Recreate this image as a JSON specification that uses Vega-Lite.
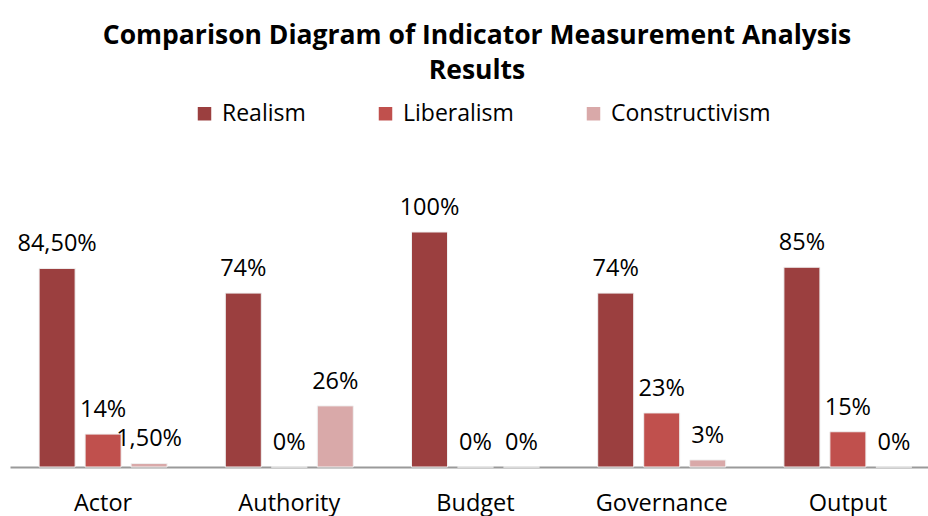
{
  "$schema": "https://vega.github.io/schema/vega-lite/v6.json",
  "autosize": {"type": "none"},
  "width": 918,
  "height": 282,
  "padding": {"left": 10, "right": 0, "top": 185, "bottom": 49},
  "background": "white",
  "config": {"view": {"stroke": null}, "font": "Open Sans"},
  "title": {
    "text": ["Comparison Diagram of Indicator Measurement Analysis", "Results"],
    "fontSize": 26.5,
    "fontWeight": "bold",
    "font": "Open Sans",
    "color": "black",
    "anchor": "middle",
    "dx": 8,
    "lineHeight": 35,
    "offset": 18
  },
  "data": {
    "values": [
      {"category": "Actor", "series": "Realism", "value": 0.845, "label": "84,50%"},
      {"category": "Actor", "series": "Liberalism", "value": 0.14, "label": "14%"},
      {"category": "Actor", "series": "Constructivism", "value": 0.015, "label": "1,50%"},
      {"category": "Authority", "series": "Realism", "value": 0.74, "label": "74%"},
      {"category": "Authority", "series": "Liberalism", "value": 0, "label": "0%"},
      {"category": "Authority", "series": "Constructivism", "value": 0.26, "label": "26%"},
      {"category": "Budget", "series": "Realism", "value": 1.0, "label": "100%"},
      {"category": "Budget", "series": "Liberalism", "value": 0, "label": "0%"},
      {"category": "Budget", "series": "Constructivism", "value": 0, "label": "0%"},
      {"category": "Governance", "series": "Realism", "value": 0.74, "label": "74%"},
      {"category": "Governance", "series": "Liberalism", "value": 0.23, "label": "23%"},
      {"category": "Governance", "series": "Constructivism", "value": 0.03, "label": "3%"},
      {"category": "Output", "series": "Realism", "value": 0.85, "label": "85%"},
      {"category": "Output", "series": "Liberalism", "value": 0.15, "label": "15%"},
      {"category": "Output", "series": "Constructivism", "value": 0, "label": "0%"}
    ]
  },
  "encoding": {
    "x": {
      "field": "category",
      "type": "nominal",
      "sort": ["Actor", "Authority", "Budget", "Governance", "Output"],
      "scale": {"range": [0, 931], "paddingInner": 0.3126, "paddingOuter": 0.1563},
      "axis": {
        "title": null,
        "labelAngle": 0,
        "labelFontSize": 23.5,
        "labelFont": "Open Sans",
        "labelColor": "black",
        "labelPadding": 24,
        "ticks": false,
        "domainColor": "#9a9a9a",
        "domainWidth": 2
      }
    },
    "xOffset": {
      "field": "series",
      "type": "nominal",
      "sort": ["Realism", "Liberalism", "Constructivism"],
      "scale": {"paddingInner": 0.217, "paddingOuter": 0}
    },
    "y": {
      "field": "value",
      "type": "quantitative",
      "scale": {"domain": [0, 1.2]},
      "axis": null
    }
  },
  "layer": [
    {
      "mark": {"type": "bar", "stroke": "#f0f0f0", "strokeWidth": 1},
      "encoding": {
        "color": {
          "field": "series",
          "type": "nominal",
          "sort": ["Realism", "Liberalism", "Constructivism"],
          "scale": {
            "domain": ["Realism", "Liberalism", "Constructivism"],
            "range": ["#9B3F3F", "#C0504D", "#D9A9A9"]
          },
          "legend": {
            "title": null,
            "orient": "none",
            "direction": "horizontal",
            "legendX": 183,
            "legendY": -83,
            "symbolType": "square",
            "symbolSize": 182,
            "symbolStrokeWidth": 0,
            "labelFontSize": 23,
            "labelFont": "Open Sans",
            "labelColor": "black",
            "labelOffset": 6,
            "columnPadding": 68,
            "padding": 0
          }
        }
      }
    },
    {
      "mark": {"type": "text", "baseline": "bottom", "dy": -12, "fontSize": 23.5, "font": "Open Sans", "color": "black"},
      "encoding": {"text": {"field": "label"}}
    }
  ]
}
